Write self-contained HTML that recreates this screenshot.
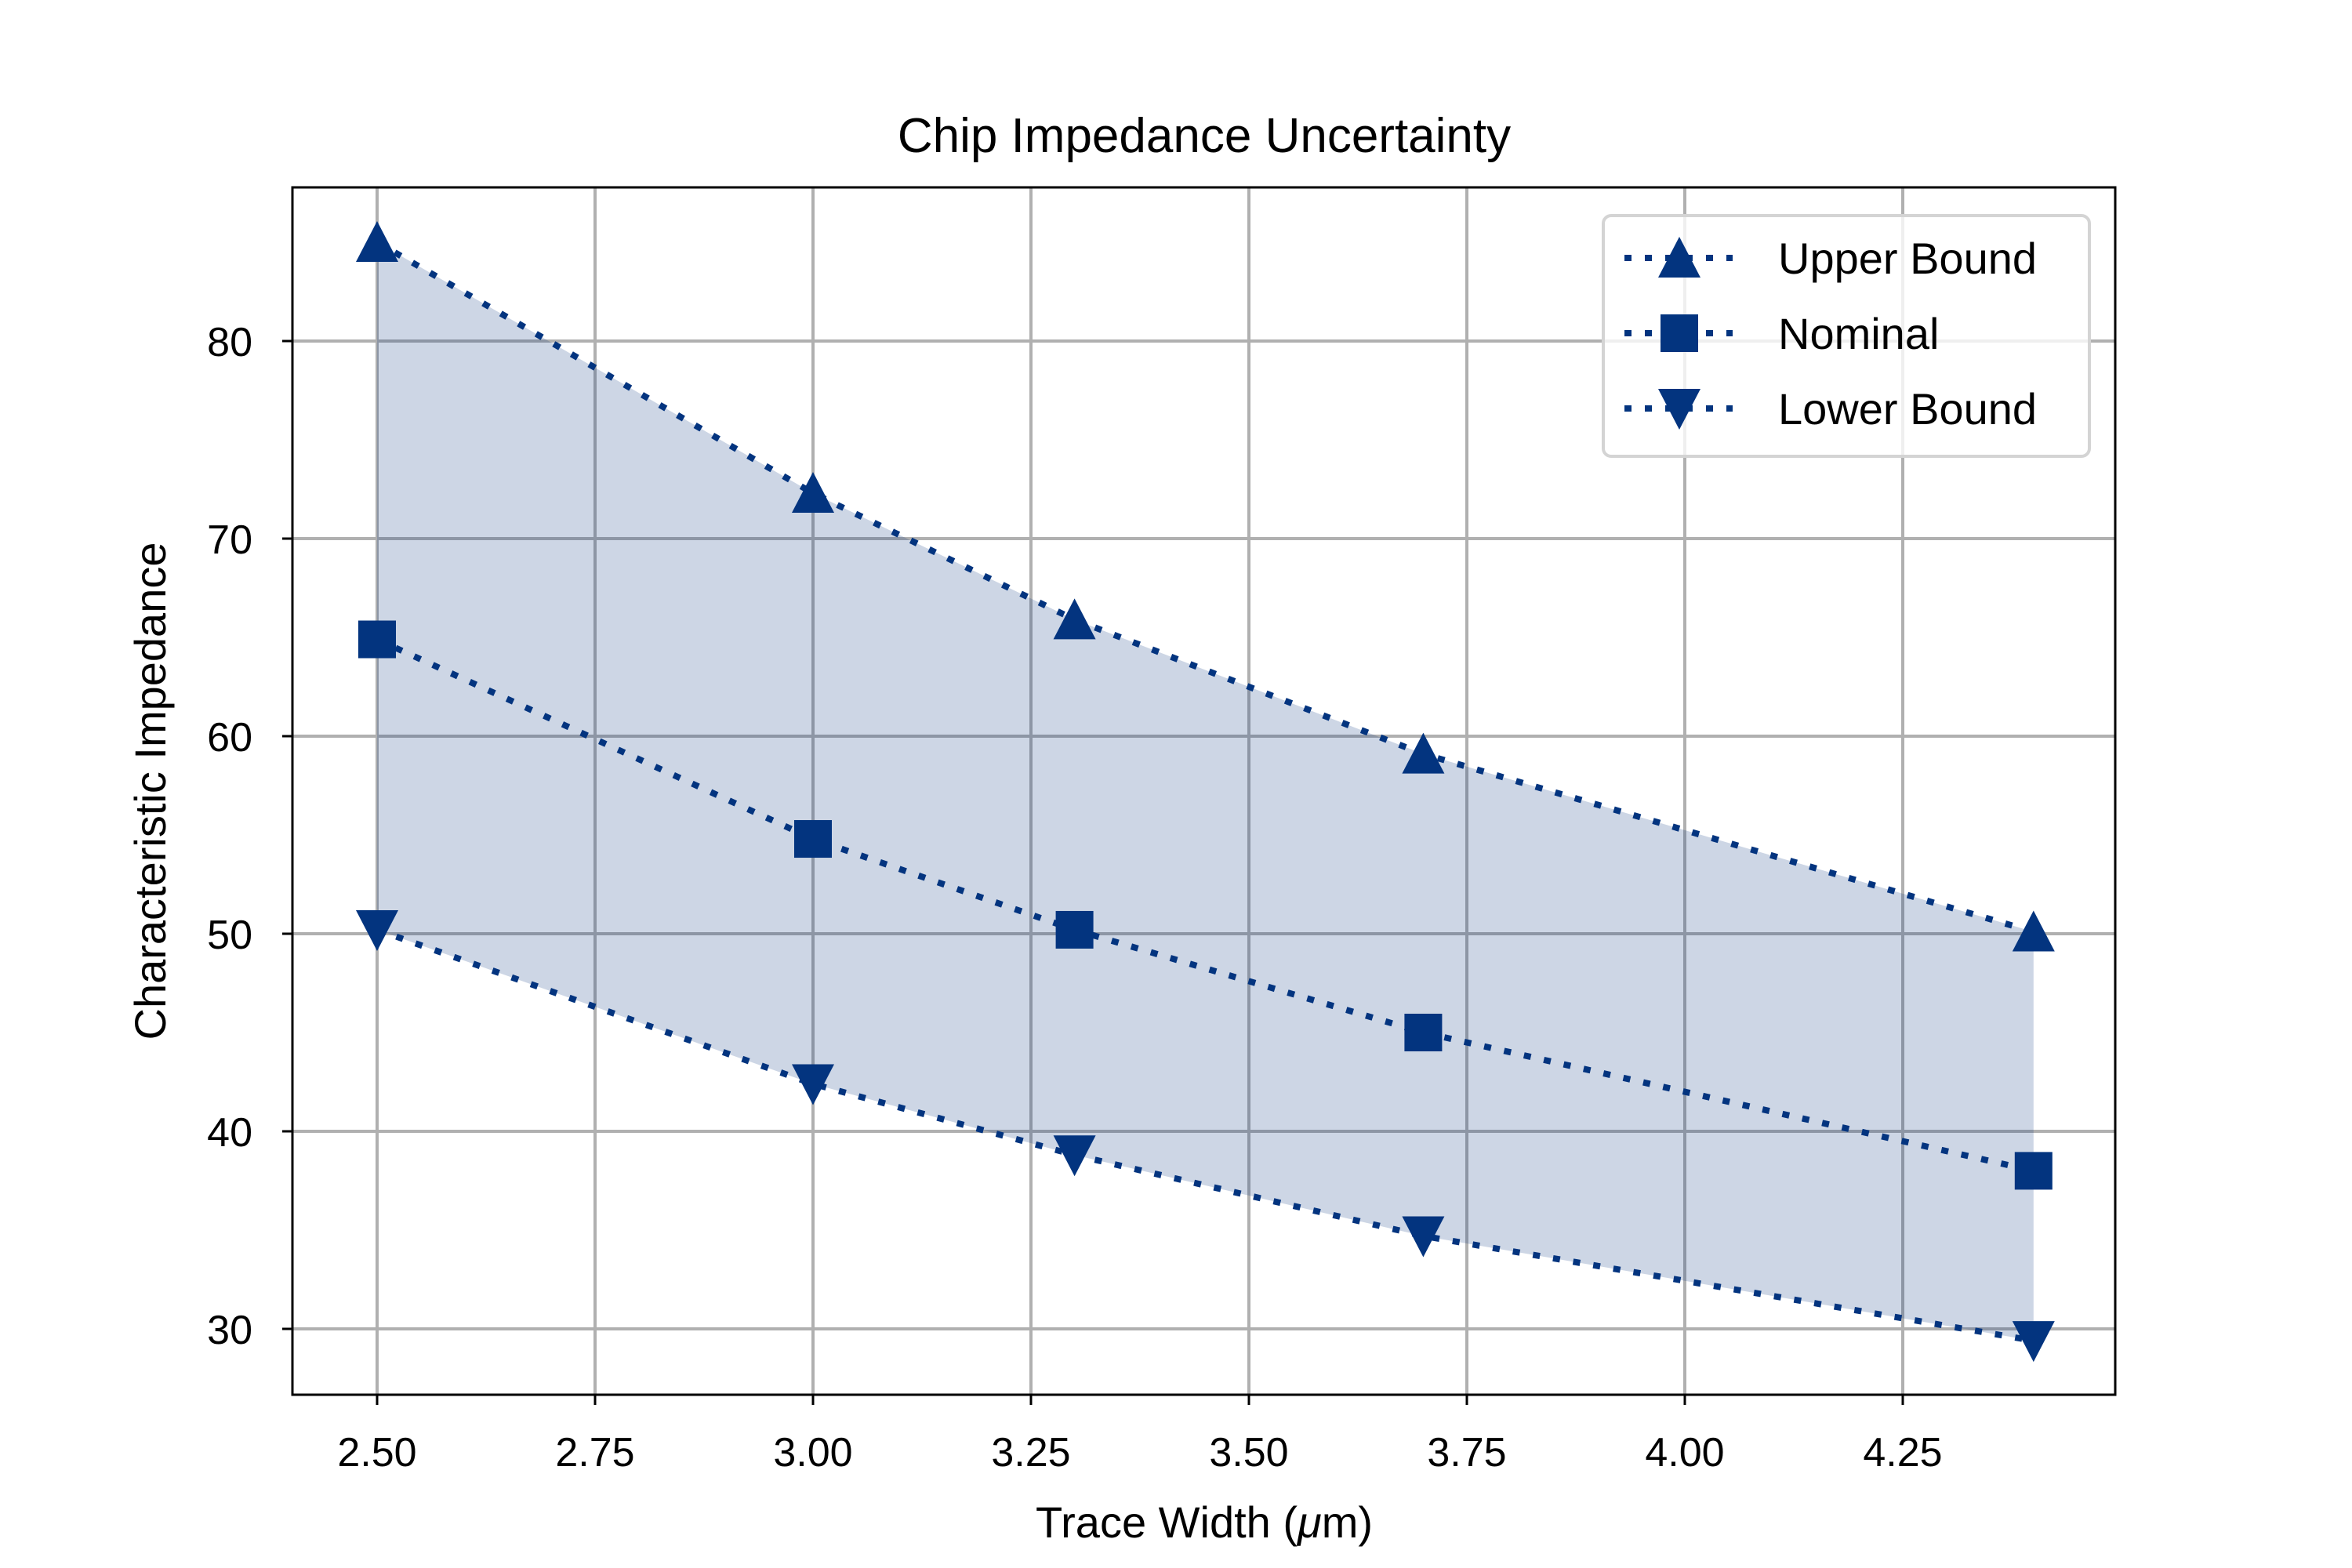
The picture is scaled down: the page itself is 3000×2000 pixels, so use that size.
<!DOCTYPE html>
<html><head><meta charset="utf-8"><style>
html,body{margin:0;padding:0;background:#fff;}
svg{display:block;font-family:"Liberation Sans",sans-serif;}
</style></head><body>
<svg id="chart" width="3000" height="2000" viewBox="0 0 3000 2000" xmlns="http://www.w3.org/2000/svg">
<rect width="3000" height="2000" fill="#fff"/>
<g id="grid"></g>
<g id="series"></g>
<rect x="373" y="239" width="2325" height="1540" fill="none" stroke="#000" stroke-width="3"/>
<g id="ticks"></g>
<text x="1536" y="194" font-size="62" text-anchor="middle">Chip Impedance Uncertainty</text>
<text x="1536" y="1961" font-size="56" text-anchor="middle">Trace Width  (<tspan font-style="italic">μ</tspan>m)</text>
<text transform="translate(211,1009) rotate(-90)" font-size="56" text-anchor="middle">Characteristic Impedance</text>
<g id="legend">
<rect x="2045" y="275" width="620" height="307" rx="10" fill="#fff" fill-opacity="0.8" stroke="#d4d4d4" stroke-width="4"/>
</g>
</svg>
<script>
const xValues = [2.5, 3.0, 3.3, 3.7, 4.4];
const upperValues = [85.0, 72.3, 65.9, 59.1, 50.1];
const nominalValues = [64.9, 54.8, 50.2, 45.0, 38.0];
const lowerValues = [50.2, 42.4, 38.8, 34.7, 29.4];
const xTicks = [2.5, 2.75, 3.0, 3.25, 3.5, 3.75, 4.0, 4.25];
const xTickLabels = ["2.50","2.75","3.00","3.25","3.50","3.75","4.00","4.25"];
const yTicks = [30, 40, 50, 60, 70, 80];
const yTickLabels = ["30","40","50","60","70","80"];
const seriesNames = ["Upper Bound", "Nominal", "Lower Bound"];

const NS = "http://www.w3.org/2000/svg";
const C = "#03347f";
const L = 373, R = 2698, T = 239, B = 1779;
function xs(v){ return 481 + (v - 2.5) / 0.25 * 278.0; }
function ys(v){ return 435 + (80 - v) / 10 * 252.0; }
function mk(tag, attrs, parent){
  const e = document.createElementNS(NS, tag);
  for (const k in attrs) e.setAttribute(k, attrs[k]);
  parent.appendChild(e);
  return e;
}
const grid = document.getElementById('grid');
const ticks = document.getElementById('ticks');
const ser = document.getElementById('series');
const leg = document.getElementById('legend');

xTicks.forEach((t, i) => {
  const x = xs(t);
  const g = mk('line', {x1:x, x2:x, y1:T, y2:B, stroke:'#b0b0b0', 'stroke-width':4}, grid);
  
  
  const tk = mk('line', {x1:x, x2:x, y1:B, y2:B+13, stroke:'#000', 'stroke-width':3}, ticks);
  
  
  const lb = mk('text', {x:x, y:B+91, 'font-size':52, 'text-anchor':'middle'}, ticks);
  lb.textContent = xTickLabels[i];
  
  
});
yTicks.forEach((t, i) => {
  const y = ys(t);
  const g = mk('line', {x1:L, x2:R, y1:y, y2:y, stroke:'#b0b0b0', 'stroke-width':4}, grid);
  
  
  const tk = mk('line', {x1:L-13, x2:L, y1:y, y2:y, stroke:'#000', 'stroke-width':3}, ticks);
  
  
  const lb = mk('text', {x:322, y:y+19, 'font-size':52, 'text-anchor':'end'}, ticks);
  lb.textContent = yTickLabels[i];
  
  
});

let pts = xValues.map((v,i)=>xs(v)+','+ys(upperValues[i]));
for (let i = xValues.length-1; i >= 0; i--) pts.push(xs(xValues[i])+','+ys(lowerValues[i]));
const band = mk('polygon', {points:pts.join(' '), fill:C, 'fill-opacity':0.2}, ser);



function marker(kind, x, y, parent){
  let e;
  if (kind === 'up') e = mk('polygon', {points:`${x},${y-27} ${x-27},${y+25} ${x+27},${y+25}`, fill:C}, parent);
  else if (kind === 'down') e = mk('polygon', {points:`${x},${y+27} ${x-27},${y-25} ${x+27},${y-25}`, fill:C}, parent);
  else e = mk('rect', {x:x-24, y:y-24, width:48, height:48, fill:C}, parent);
  return e;
}
const allSeries = [upperValues, nominalValues, lowerValues];
const kinds = ['up', 'square', 'down'];
allSeries.forEach((vals, s) => {
  const line = mk('polyline', {points:xValues.map((v,i)=>xs(v)+','+ys(vals[i])).join(' '), fill:'none', stroke:C, 'stroke-width':8, 'stroke-dasharray':'9 17'}, ser);
  
  
  vals.forEach((v, i) => {
    const m = marker(kinds[s], xs(xValues[i]), ys(v), ser);
    
    
  });
  const ly = 329 + s * 96;
  const ll = mk('line', {x1:2072, x2:2210, y1:ly, y2:ly, stroke:C, 'stroke-width':8, 'stroke-dasharray':'9 17'}, leg);
  
  
  const lm = marker(kinds[s], 2142, ly, leg);
  
  
  const lt = mk('text', {x:2268, y:ly+20, 'font-size':56}, leg);
  lt.textContent = seriesNames[s];
  
  
});
</script>
</body></html>
